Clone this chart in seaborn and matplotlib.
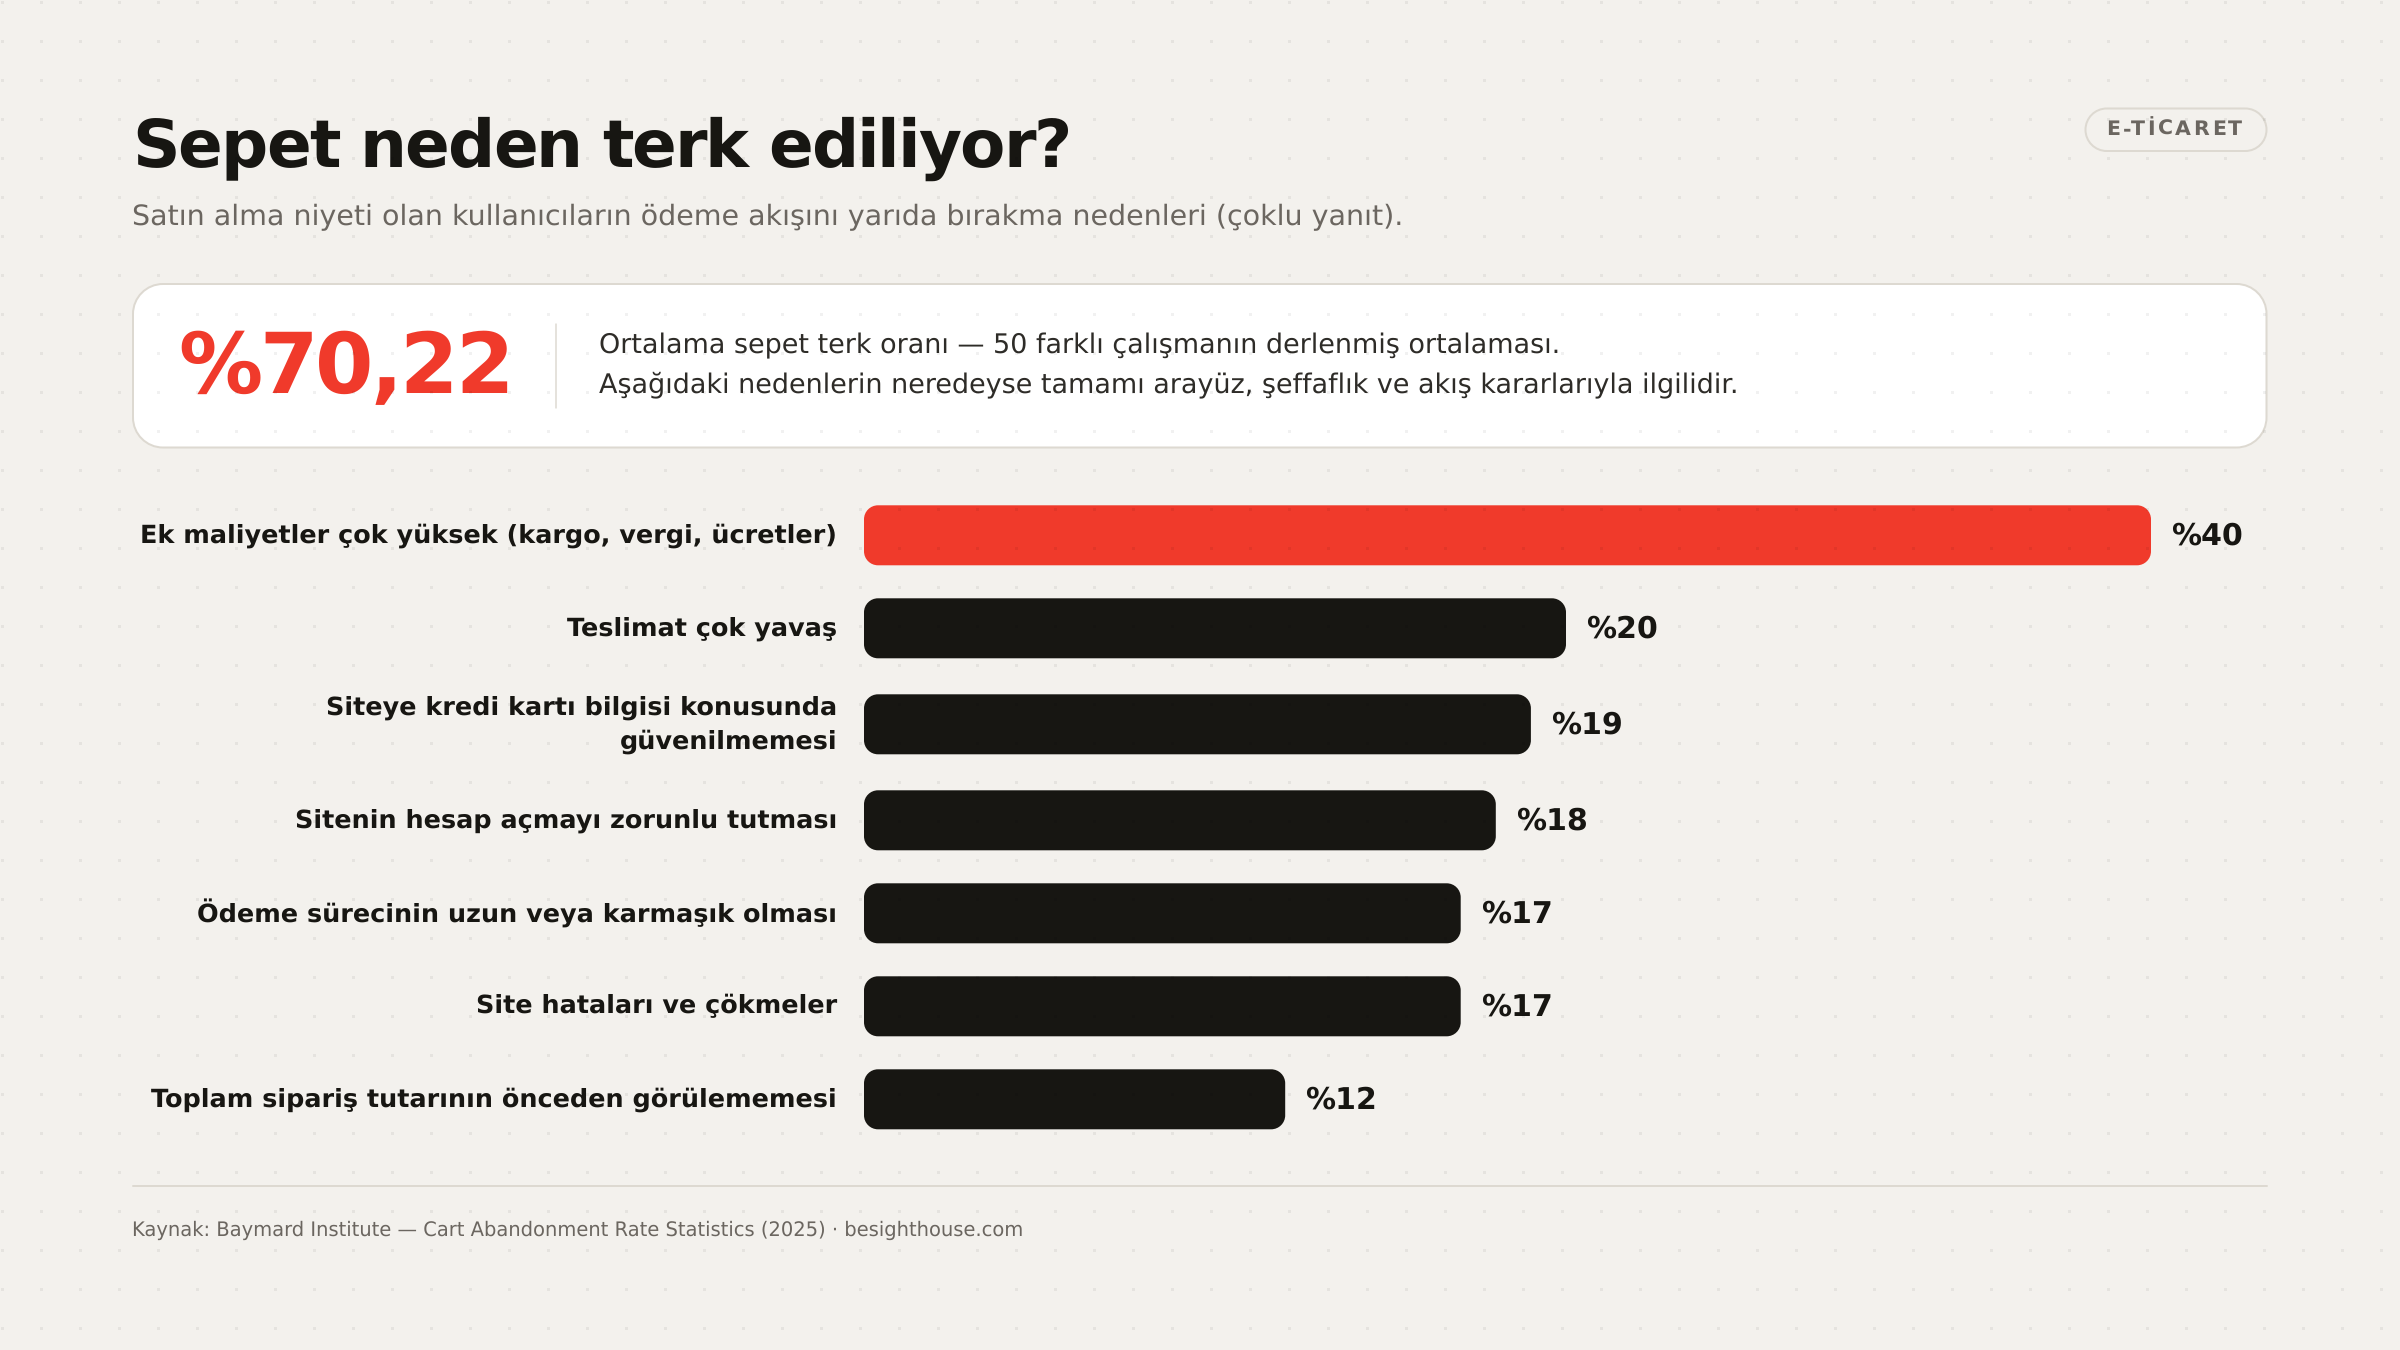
import numpy as np
import pandas as pd
import seaborn as sns
import matplotlib.pyplot as plt
from matplotlib.patches import PathPatch
from matplotlib.path import Path
from matplotlib.text import Text
from matplotlib.transforms import IdentityTransform, ScaledTranslation

# data
reasons = [
    "Ek maliyetler çok yüksek (kargo, vergi, ücretler)",
    "Teslimat çok yavaş",
    "Siteye kredi kartı bilgisi konusunda\ngüvenilmemesi",
    "Sitenin hesap açmayı zorunlu tutması",
    "Ödeme sürecinin uzun veya karmaşık olması",
    "Site hataları ve çökmeler",
    "Toplam sipariş tutarının önceden görülememesi",
]
shares = [40, 20, 19, 18, 17, 17, 12]
highlight = ["top", "rest", "rest", "rest", "rest", "rest", "rest"]

title = "Sepet neden terk ediliyor?"
subtitle = "Satın alma niyeti olan kullanıcıların ödeme akışını yarıda bırakma nedenleri (çoklu yanıt)."
tag = "E-TİCARET"
big_number = "%70,22"
note_lines = ["Ortalama sepet terk oranı — 50 farklı çalışmanın derlenmiş ortalaması.",
              "Aşağıdaki nedenlerin neredeyse tamamı arayüz, şeffaflık ve akış kararlarıyla ilgilidir."]
source = "Kaynak: Baymard Institute — Cart Abandonment Rate Statistics (2025) · besighthouse.com"

# colours
BG = "#F3F1ED"
INK = "#171612"
RED = "#F03A2B"
MUTED = "#6B6660"
BODY = "#2E2C28"
LINE = "#DDD9D1"

W, H, DPI = 2400, 1350, 150
PX = 72 / DPI  # one output pixel in points


class SpacedText(Text):
    # one text object, drawn glyph by glyph so it can have letter spacing
    def __init__(self, *args, spacing=0, **kwargs):
        super().__init__(*args, **kwargs)
        self.spacing = spacing

    def draw(self, renderer):
        x0, y0 = self.get_transform().transform(self.get_position())
        fp = self.get_fontproperties()
        width = lambda s: renderer.get_text_width_height_descent(s, fp, False)[0]
        glyph = Text(0, 0, "", fontproperties=fp, color=self.get_color(), va="baseline",
                     transform=IdentityTransform())
        glyph.set_figure(self.get_figure())
        s = self.get_text()
        for i, ch in enumerate(s):
            adv = width(s[:i + 1]) - width(ch) if ch != " " else 0
            if ch != " ":
                glyph.set_position((x0 + adv + i * self.spacing, y0))
                glyph.set_text(ch)
                glyph.draw(renderer)


def rrect(x0, y0, x1, y1, rx, ry):
    # rounded rectangle with circular looking corners
    k = 0.4477
    verts = [(x0 + rx, y0), (x1 - rx, y0),
             (x1 - rx * k, y0), (x1, y0 + ry * k), (x1, y0 + ry),
             (x1, y1 - ry),
             (x1, y1 - ry * k), (x1 - rx * k, y1), (x1 - rx, y1),
             (x0 + rx, y1),
             (x0 + rx * k, y1), (x0, y1 - ry * k), (x0, y1 - ry),
             (x0, y0 + ry),
             (x0, y0 + ry * k), (x0 + rx * k, y0), (x0 + rx, y0),
             (x0 + rx, y0)]
    codes = [Path.MOVETO, Path.LINETO,
             Path.CURVE4, Path.CURVE4, Path.CURVE4,
             Path.LINETO,
             Path.CURVE4, Path.CURVE4, Path.CURVE4,
             Path.LINETO,
             Path.CURVE4, Path.CURVE4, Path.CURVE4,
             Path.LINETO,
             Path.CURVE4, Path.CURVE4, Path.CURVE4,
             Path.CLOSEPOLY]
    return Path(verts, codes)


sns.set_theme(style="white")
plt.rcParams["font.family"] = ["DejaVu Sans"]
plt.rcParams["text.hinting"] = "no_hinting"

fig = plt.figure(figsize=(W / DPI, H / DPI), dpi=DPI, facecolor=BG)

# page furniture, drawn in pixel coordinates
page = fig.add_axes([0, 0, 1, 1], zorder=0)
page.set_xlim(0, W)
page.set_ylim(H, 0)
page.axis("off")

page.add_patch(PathPatch(rrect(2085.5, 108.5, 2266.5, 151, 21.2, 21.2), fc="none", ec=LINE, lw=2 * PX))
page.add_patch(PathPatch(rrect(133, 284, 2266.5, 447.5, 30, 30), fc="white", ec=LINE, lw=2 * PX))
page.plot([556, 556], [324, 408], color=LINE, lw=1.5 * PX)
page.plot([133, 2267], [1185.8, 1185.8], color=LINE, lw=2 * PX)

page.add_artist(SpacedText(132, 167, title, spacing=-1.9, fontsize=66 * PX, fontweight="bold", color=INK))
page.text(132.5, 225, subtitle, fontsize=28.5 * PX, color=MUTED, va="baseline")
page.add_artist(SpacedText(2106.5, 135, tag, spacing=2.5, fontsize=20.5 * PX, fontweight="bold", color=MUTED))
page.add_artist(SpacedText(178.5, 393, big_number, spacing=-3, fontsize=84 * PX, fontweight="bold", color=RED))
page.text(599, 353.5, note_lines[0], fontsize=27 * PX, color=BODY, va="baseline")
page.text(599, 392, note_lines[1], fontsize=27 * PX, color=BODY, va="baseline")
page.text(132.5, 1236, source, fontsize=19.5 * PX, color=MUTED, va="baseline")

# bars: row height grows with a wrapped label
BAR_H, ROW_GAP, WRAP_H = 60, 33, 66
centres = []
top = 505.3
for r in reasons:
    row = WRAP_H if "\n" in r else BAR_H
    centres.append(top + row / 2)
    top += row + ROW_GAP

df = pd.DataFrame({"reason": reasons, "share": shares, "y": centres, "group": highlight})

BAR_X0 = 864
PX_PER_UNIT = 35.1
MAX_BAR_PX = 1287  # the track runs out before 40 would fit, so that bar stops short
RADIUS = 14

ax = fig.add_axes([BAR_X0 / W, 0, 1 - BAR_X0 / W, 1], zorder=1)
ax.patch.set_alpha(0)
sns.barplot(data=df, x="share", y="y", hue="group", orient="y", native_scale=True,
            palette={"top": RED, "rest": INK}, saturation=1, dodge=False, legend=False,
            width=BAR_H / min(np.diff(centres)), errorbar=None, ax=ax)
ax.set_xlim(0, (W - BAR_X0) / PX_PER_UNIT)
ax.set_ylim(H, 0)

# swap the square bars for rounded ones
for bar in list(ax.patches):
    x, y, w, h = bar.get_x(), bar.get_y(), bar.get_width(), bar.get_height()
    w = min(w, MAX_BAR_PX / PX_PER_UNIT)
    ax.add_patch(PathPatch(rrect(x, y, x + w, y + h, RADIUS / PX_PER_UNIT, RADIUS),
                           fc=bar.get_facecolor(), ec="none"))
    bar.remove()

for v, yc in zip(shares, centres):
    end = min(v, MAX_BAR_PX / PX_PER_UNIT)
    ax.annotate(f"%{v}", (end, yc), xytext=(20 * PX, 2 * PX), textcoords="offset points",
                fontsize=30 * PX, fontweight="bold", color=INK, va="center_baseline")

ax.set_yticks(centres, reasons)
ax.set_xticks([])
ax.set_xlabel("")
ax.set_ylabel("")
ax.tick_params(axis="y", length=0, pad=27 * PX)
for lab, r in zip(ax.get_yticklabels(), reasons):
    lab.set_fontsize(25.5 * PX)
    lab.set_fontweight("bold")
    lab.set_color(INK)
    lab.set_linespacing(1.45)
    lab.set_multialignment("right")
    shift = 6.5 if "\n" in r else 2.5
    lab.set_transform(lab.get_transform() + ScaledTranslation(0, shift / DPI, fig.dpi_scale_trans))
sns.despine(ax=ax, left=True, bottom=True)

# faint dot grid over everything
dots = fig.add_axes([0, 0, 1, 1], zorder=2)
dots.set_xlim(0, W)
dots.set_ylim(H, 0)
dots.axis("off")
gx, gy = np.meshgrid(np.arange(1.5, W, 39), np.arange(1.5, H, 39))
dots.scatter(gx.ravel(), gy.ravel(), s=(3 * PX) ** 2, marker="s", color="black",
             alpha=0.055, linewidths=0)

fig.savefig("out.png", dpi=DPI, facecolor=BG)
